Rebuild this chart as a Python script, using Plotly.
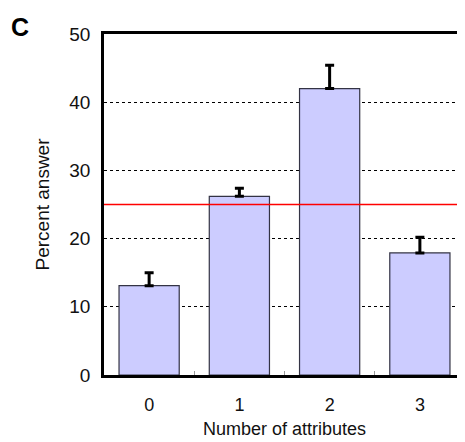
import plotly.graph_objects as go

categories = ["0", "1", "2", "3"]
values = [13.1, 26.2, 42.0, 17.9]
errors = [1.9, 1.2, 3.4, 2.3]
chance_level = 25
y_ticks = [0, 10, 20, 30, 40, 50]

fig = go.Figure()
fig.add_trace(go.Bar(
    x=categories, y=values, width=0.667,
    marker=dict(color="#CCCCFF", line=dict(color="#333344", width=1.2)),
    error_y=dict(type="data", array=errors, arrayminus=[0]*len(errors),
                 symmetric=False, color="black", thickness=3, width=4.5),
))
fig.add_shape(type="line", xref="x", yref="y", x0=-0.5, x1=3.5,
              y0=chance_level, y1=chance_level, line=dict(color="#FF0000", width=1.3))

fig.update_layout(
    width=457, height=434,
    margin=dict(l=96, r=0, t=26, b=67, autoexpand=False),
    plot_bgcolor="white", paper_bgcolor="white",
    showlegend=False,
    font=dict(family="Liberation Sans, Arial", size=18, color="#111"),
    annotations=[dict(text="<b>C</b>", xref="paper", yref="paper",
                      x=-0.2327, y=1.0205, xanchor="center", yanchor="middle",
                      showarrow=False, font=dict(size=25, color="black"))],
)
fig.update_xaxes(
    type="category", range=[-0.5, 3.5],
    showline=True, linecolor="black", linewidth=2.5, mirror=True,
    ticks="inside", tickson="boundaries", ticklen=4, tickcolor="#999", tickwidth=1,
    ticklabelstandoff=12, showgrid=False,
    title=dict(text="Number of attributes", standoff=9, font=dict(size=18)),
    tickfont=dict(size=18),
)
fig.update_yaxes(
    range=[0, 50], tickvals=y_ticks, ticktext=[str(t) for t in y_ticks],
    showline=True, linecolor="black", linewidth=2.5, mirror=True,
    showgrid=True, gridcolor="black", griddash="dot", gridwidth=1.4,
    zeroline=False, ticks="", ticklen=0, ticklabelstandoff=7,
    title=dict(text="Percent answer", standoff=15, font=dict(size=19)),
    tickfont=dict(size=19),
)
fig.write_html("out.html")
